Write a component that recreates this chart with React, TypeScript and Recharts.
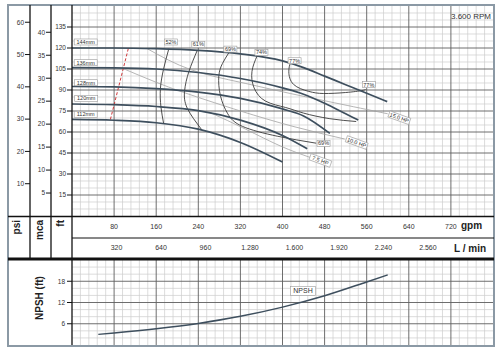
import React from 'react';
import { LineChart, Line, XAxis, YAxis, CartesianGrid, ReferenceDot, ReferenceLine } from 'recharts';

const FONT = 'Liberation Sans, Arial, Helvetica, sans-serif';

// impeller curves: [gpm, ft]
const imp144 = [[0, 120], [80, 120], [160, 119.5], [240, 118.3], [320, 115.8], [400, 110.8], [440, 106], [480, 99.9], [520, 93.8], [560, 87.7], [599, 81.7]];
const imp136 = [[0, 106], [80, 105.8], [160, 105], [240, 102.5], [320, 98.2], [400, 91.5], [440, 87], [480, 80.5], [520, 73], [544, 68.5]];
const imp128 = [[0, 92.5], [80, 92.2], [160, 91], [240, 88.5], [320, 84], [400, 76.5], [440, 71.5], [490, 59]];
const imp120 = [[0, 80], [80, 79.5], [160, 78.2], [240, 75.3], [320, 68.5], [400, 57.5], [447, 48]];
const imp112 = [[0, 69], [80, 68.4], [160, 66.6], [240, 62], [320, 52.5], [400, 38.5]];

// efficiency contours
const eff52 = [[184, 119.5], [174, 105], [168, 91], [169, 78], [174, 66.3]];
const eff61 = [[238, 118.3], [222, 103], [214, 89.5], [219, 77], [247, 61.4]];
const eff69 = [[298, 116.6], [286, 109], [279, 100], [282, 86], [296, 73], [324, 64], [390, 57], [464, 52]];
const eff74 = [[352, 114.6], [342, 103.3], [346, 91.5], [368, 82], [406, 77.5], [440, 73.5], [490, 69.5], [540, 67.5]];
const eff77 = [[415, 109.5], [412, 103], [421, 94], [450, 89], [478, 87.5], [520, 88.2], [551, 89.6], [558, 90.5]];

// power lines
const hp15 = [[143, 119.5], [226, 104.5], [320, 95.5], [415, 87.5], [600, 73]];
const hp10 = [[96, 105.5], [160, 95.5], [226, 86.5], [320, 75], [420, 64], [518, 55]];
const hp75 = [[262, 74], [330, 62], [396, 50], [455, 41.5]];

const minFlow = [[73, 69], [107, 119.6]];

const npsh = [[50, 3], [80, 3.4], [160, 4.6], [240, 6.1], [320, 8.1], [400, 10.7], [480, 13.9], [560, 17.8], [600, 19.8]];

const gpmTicks = [80, 160, 240, 320, 400, 480, 560, 640, 720];
const lminTicks = [320, 640, 960, 1280, 1600, 1920, 2240, 2560];
const ftTicks = [15, 30, 45, 60, 75, 90, 105, 120, 135];
const mcaTicks = [5, 10, 15, 20, 25, 30, 35, 40];
const psiTicks = [10, 20, 30, 40, 50, 60];
const npshTicks = [6, 12, 18];

const impLabels = [
  { text: '144mm', gpm: 26, ft: 124.3 },
  { text: '136mm', gpm: 26, ft: 109.5 },
  { text: '128mm', gpm: 26.5, ft: 95.2 },
  { text: '120mm', gpm: 27, ft: 84 },
  { text: '112mm', gpm: 26, ft: 72.6 },
];
const effLabels = [
  { text: '52%', gpm: 188, ft: 124.3 },
  { text: '61%', gpm: 240, ft: 122.5 },
  { text: '69%', gpm: 301, ft: 119.2 },
  { text: '74%', gpm: 360, ft: 116.8 },
  { text: '77%', gpm: 423, ft: 110.9 },
  { text: '77%', gpm: 564, ft: 93.8 },
  { text: '69%', gpm: 478, ft: 51.8 },
];
const hpLabels = [
  { text: '15.0 HP', gpm: 622, ft: 70.2 },
  { text: '10.0 HP', gpm: 541, ft: 52.5 },
  { text: '7.5 HP', gpm: 472, ft: 39.7 },
];

const pts = (a: number[][]) => a.map(([gpm, ft]) => ({ gpm, ft }));
const range = (step: number, max: number) => Array.from({ length: Math.floor(max / step) - 1 }, (_, i) => (i + 1) * step);

const thou = (v: number) => (v >= 1000 ? `${Math.floor(v / 1000)}.${String(v % 1000).padStart(3, '0')}` : String(v));

const BoxLabel = ({ cx, cy, text, w, h, fs, angle = 0 }: any) => (
  <g transform={`rotate(${angle} ${cx} ${cy})`}>
    <rect x={cx - w / 2} y={cy - h / 2} width={w} height={h} fill="#fff" stroke="#9a9a9a" strokeWidth={0.6} />
    <text x={cx} y={cy + fs * 0.36} textAnchor="middle" fontSize={fs} fill="#333" fontFamily={FONT}>{text}</text>
  </g>
);

const tickStyle = { fontSize: 6.5, fill: '#333', fontFamily: FONT };
const impStroke = '#3e4f5e';
const minorC = '#cdcdcd';
const majorC = '#5e5e5e';

const minorGpm = range(16, 800).filter((v) => v % 80 !== 0);
const minorFt = range(5, 150).filter((v) => v % 15 !== 0);
const minorNpsh = range(2, 24).filter((v) => v % 6 !== 0);

export default function App() {
  return (
    <div style={{ position: 'absolute', left: 0, top: 0, width: 503, height: 352, background: '#fff' }}>
      <div style={{ position: 'absolute', left: 0, top: 0 }}>
        <LineChart width={503} height={262} margin={{ top: 6, right: 10, bottom: 3, left: 0 }}>
          <XAxis xAxisId="gpm" dataKey="gpm" type="number" domain={[0, 800]} allowDataOverflow ticks={gpmTicks} height={22} axisLine={false} tickLine={false} tickSize={6} tickMargin={2} tick={{ ...tickStyle, fontSize: 7 }} />
          <XAxis xAxisId="lmin" dataKey="gpm" type="number" domain={[0, 3028.3]} allowDataOverflow ticks={lminTicks} height={21} axisLine={false} tickLine={false} tickSize={6} tickMargin={1} tick={{ ...tickStyle, fontSize: 7 }} tickFormatter={thou} />
          <YAxis yAxisId="ft" type="number" domain={[0, 150]} allowDataOverflow ticks={ftTicks} width={21} axisLine={false} tickSize={5} tickMargin={1} tickLine={{ stroke: '#111' }} tick={tickStyle} />
          <YAxis yAxisId="mca" type="number" domain={[0, 45.72]} allowDataOverflow ticks={mcaTicks} width={21} axisLine={false} tickSize={5} tickMargin={1} tickLine={{ stroke: '#111' }} tick={tickStyle} />
          <YAxis yAxisId="psi" type="number" domain={[0, 65.03]} allowDataOverflow ticks={psiTicks} width={30} axisLine={false} tickSize={5} tickMargin={1} tickLine={{ stroke: '#111' }} tick={tickStyle} />

          {minorGpm.map((v) => (
            <ReferenceLine key={'mx' + v} xAxisId="gpm" yAxisId="ft" x={v} stroke={minorC} strokeWidth={0.7} />
          ))}
          {minorFt.map((v) => (
            <ReferenceLine key={'my' + v} xAxisId="gpm" yAxisId="ft" y={v} stroke={minorC} strokeWidth={0.7} />
          ))}
          {gpmTicks.map((v) => (
            <ReferenceLine key={'Mx' + v} xAxisId="gpm" yAxisId="ft" x={v} stroke={majorC} strokeWidth={0.9} />
          ))}
          {ftTicks.map((v) => (
            <ReferenceLine key={'My' + v} xAxisId="gpm" yAxisId="ft" y={v} stroke={majorC} strokeWidth={0.9} />
          ))}

          {[hp15, hp10, hp75].map((d, i) => (
            <Line key={'hp' + i} xAxisId="gpm" yAxisId="ft" data={pts(d)} dataKey="ft" type="natural" dot={false} stroke="#a3a3a3" strokeWidth={0.8} isAnimationActive={false} />
          ))}
          <Line xAxisId="gpm" yAxisId="ft" data={pts(minFlow)} dataKey="ft" type="linear" dot={false} stroke="#d0393b" strokeWidth={1} strokeDasharray="3 2" isAnimationActive={false} />
          {[eff52, eff61, eff69, eff74, eff77].map((d, i) => (
            <Line key={'eff' + i} xAxisId="gpm" yAxisId="ft" data={pts(d)} dataKey="ft" type="natural" dot={false} stroke="#3a3a3a" strokeWidth={0.9} isAnimationActive={false} />
          ))}
          {[imp144, imp136, imp128, imp120, imp112].map((d, i) => (
            <Line key={'imp' + i} xAxisId="gpm" yAxisId="ft" data={pts(d)} dataKey="ft" type="monotone" dot={false} stroke={impStroke} strokeWidth={1.7} isAnimationActive={false} />
          ))}

          {impLabels.map((l, i) => (
            <ReferenceDot key={'il' + i} xAxisId="gpm" yAxisId="ft" x={l.gpm} y={l.ft} r={0} shape={(p: any) => <BoxLabel cx={p.cx} cy={p.cy} text={l.text} w={23} h={6} fs={5.5} />} />
          ))}
          {effLabels.map((l, i) => (
            <ReferenceDot key={'el' + i} xAxisId="gpm" yAxisId="ft" x={l.gpm} y={l.ft} r={0} shape={(p: any) => <BoxLabel cx={p.cx} cy={p.cy} text={l.text} w={13} h={6} fs={5.5} />} />
          ))}
          {hpLabels.map((l, i) => (
            <ReferenceDot key={'hl' + i} xAxisId="gpm" yAxisId="ft" x={l.gpm} y={l.ft} r={0} shape={(p: any) => <BoxLabel cx={p.cx} cy={p.cy} text={l.text} w={22} h={6.5} fs={5.5} angle={20} />} />
          ))}
        </LineChart>
      </div>

      <div style={{ position: 'absolute', left: 0, top: 258 }}>
        <LineChart width={503} height={88} margin={{ top: 2, right: 10, bottom: 1, left: 0 }}>
          <XAxis dataKey="gpm" type="number" domain={[0, 800]} allowDataOverflow hide />
          <YAxis type="number" domain={[0, 24]} allowDataOverflow ticks={npshTicks} width={72} axisLine={false} tickSize={5} tickMargin={2} tickLine={{ stroke: '#111' }} tick={tickStyle} />
          {minorGpm.map((v) => (
            <ReferenceLine key={'nmx' + v} x={v} stroke={minorC} strokeWidth={0.7} />
          ))}
          {minorNpsh.map((v) => (
            <ReferenceLine key={'nmy' + v} y={v} stroke={minorC} strokeWidth={0.7} />
          ))}
          {gpmTicks.map((v) => (
            <ReferenceLine key={'nMx' + v} x={v} stroke={majorC} strokeWidth={0.9} />
          ))}
          {npshTicks.map((v) => (
            <ReferenceLine key={'nMy' + v} y={v} stroke={majorC} strokeWidth={0.9} />
          ))}
          <Line data={pts(npsh)} dataKey="ft" type="monotone" dot={false} stroke={impStroke} strokeWidth={1.5} isAnimationActive={false} />
          <ReferenceDot x={439} y={15.3} r={0} shape={(p: any) => <BoxLabel cx={p.cx} cy={p.cy} text="NPSH" w={25} h={9} fs={7} />} />
        </LineChart>
      </div>

      <svg width={503} height={352} style={{ position: 'absolute', left: 0, top: 0, pointerEvents: 'none' }}>
        <rect x={8} y={5} width={486} height={341} fill="none" stroke="#8b99a5" strokeWidth={2} />
        <line x1={30} y1={5} x2={30} y2={259} stroke="#111" strokeWidth={1.3} />
        <line x1={51} y1={5} x2={51} y2={259} stroke="#111" strokeWidth={1.3} />
        <line x1={72} y1={5} x2={72} y2={345} stroke="#111" strokeWidth={1.3} />
        <line x1={8} y1={216.5} x2={494} y2={216.5} stroke="#111" strokeWidth={1.6} />
        <line x1={72} y1={238} x2={494} y2={238} stroke="#111" strokeWidth={1} />
        <line x1={8} y1={259} x2={494} y2={259} stroke="#111" strokeWidth={3} />
        <text x={491} y={18.5} textAnchor="end" fontSize={8} fill="#333" fontFamily={FONT}>3.600 RPM</text>
        <text x={19.5} y={220} transform="rotate(-90 19.5 220)" textAnchor="end" fontSize={10} fontWeight="bold" fill="#222" fontFamily={FONT}>psi</text>
        <text x={43} y={220} transform="rotate(-90 43 220)" textAnchor="end" fontSize={10} fontWeight="bold" fill="#222" fontFamily={FONT}>mca</text>
        <text x={63.5} y={220} transform="rotate(-90 63.5 220)" textAnchor="end" fontSize={10} fontWeight="bold" fill="#222" fontFamily={FONT}>ft</text>
        <text x={461} y={228.5} fontSize={10} fontWeight="bold" fill="#222" fontFamily={FONT}>gpm</text>
        <text x={454} y={252} fontSize={10} fontWeight="bold" fill="#222" fontFamily={FONT}>L / min</text>
        <text x={43} y={298} transform="rotate(-90 43 298)" textAnchor="middle" fontSize={10} fontWeight="bold" fill="#222" fontFamily={FONT}>NPSH (ft)</text>
      </svg>
    </div>
  );
}
